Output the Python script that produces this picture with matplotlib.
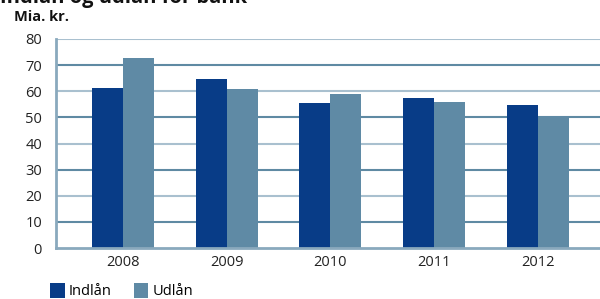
import matplotlib
matplotlib.use("Agg")
import matplotlib.pyplot as plt
import numpy as np

years = ["2008", "2009", "2010", "2011", "2012"]
indlaan = [61.2, 64.6, 55.5, 57.4, 54.8]
udlaan = [72.6, 60.8, 59.0, 56.0, 50.5]
series_names = ["Indlån", "Udlån"]
yticks = [0, 10, 20, 30, 40, 50, 60, 70, 80]

c_ind = "#083c87"
c_ud = "#5f8aa5"
grid_dark = "#5f8aa3"
grid_light = "#a9c0cf"

plt.rcParams['font.family'] = ['Open Sans', 'DejaVu Sans']

fig = plt.figure(figsize=(6, 2.99), dpi=100)
ax = fig.add_axes([56/600, 1-248/299, 1-56/600, (248-39)/299])

x = np.arange(len(years))
w = 0.3
ax.bar(x - w/2, indlaan, width=w, color=c_ind, label=series_names[0], zorder=3)
ax.bar(x + w/2, udlaan, width=w, color=c_ud, label=series_names[1], zorder=3)

for t in yticks[1:]:
    col = grid_light if (t // 10) % 2 == 0 else grid_dark
    ax.axhline(t, color=col, lw=1.5, zorder=1)

ax.set_ylim(0, 80)
ax.set_xlim(-0.645, len(years) - 1 + 0.6)
ax.set_yticks(yticks)
ax.set_xticks(x)
ax.set_xticklabels(years)
ax.tick_params(axis='both', length=0, labelsize=10.5, colors="#222222", pad=5)
ax.tick_params(axis='y', pad=10)
for s in ['top', 'right']:
    ax.spines[s].set_visible(False)
for s in ['left', 'bottom']:
    ax.spines[s].set_color("#8aa9bd")
    ax.spines[s].set_linewidth(2)
    ax.spines[s].set_zorder(4)

fig.text(0.0, 1 - 3/299, "Indlån og udlån for bank", fontsize=14.5, fontweight='bold',
         va='baseline', ha='left', color="#111111")
fig.text(14/600, 1 - 17/299, "Mia. kr.", fontsize=10.5, fontweight='bold',
         va='center', ha='left', color="#111111")

fig.legend(loc='upper left', bbox_to_anchor=(50/600, 1 - 283/299), ncol=2, frameon=False,
           handlelength=1.0, handleheight=1.2, handletextpad=0.3, columnspacing=1.5,
           fontsize=10.5, borderaxespad=0, borderpad=0)

fig.savefig("out.png", dpi=100)
